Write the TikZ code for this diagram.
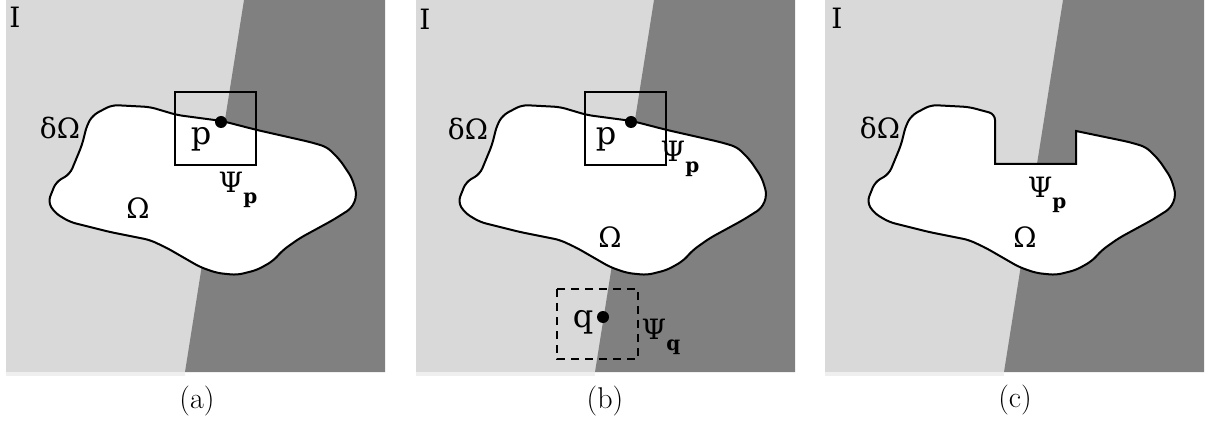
\documentclass[tikz,border=0pt]{standalone}
\usepackage{fontspec}
\newfontfamily\rotulofont{DejaVu Serif}

\definecolor{fundoclaro}{HTML}{D9D9D9}
\definecolor{fundoescuro}{HTML}{808080}
\definecolor{faixa}{HTML}{EFEFEF}

% indice pequeno e abaixado (Psi_p, Psi_q)
\newcommand{\indice}[1]{\raisebox{-0.8ex}{\fontsize{10}{11}\selectfont\bfseries #1}}

% fundo da imagem I (duas regioes)
\newcommand{\fundo}{%
  \fill[fundoclaro] (6,0) rectangle (385,372);
  \fill[fundoescuro] (244,0) -- (385,0) -- (385,372) -- (185,372) -- cycle;
  \fill[faixa] (6,372) rectangle (185,376);
}

% regiao Omega e sua borda
\newcommand{\contorno}{%
  \draw[regiao] (112,105) -- (150,107) -- (177,115) -- (222,121) -- (257,130)
    -- (310,142) -- (327,147) -- (340,160) -- (352,178) -- (357,195)
    -- (352,208) -- (333,220) -- (300,238) -- (283,250) -- (273,261)
    -- (257,270) -- (237,275) -- (217,273) -- (200,267) -- (167,248)
    -- (150,240) -- (110,232) -- (70,222) -- (55,213) -- (48,202)
    -- (56,182) -- (70,174) -- (82,145) -- (87,125)
    -- (93,115) -- cycle;
}

\begin{document}
\begin{tikzpicture}[
      x=0.5pt, y=-0.5pt,
      regiao/.style={fill=white, draw=black, line width=1pt, rounded corners=3pt},
      janela/.style={draw=black, line width=1pt},
      ponto/.style={circle, fill=black, inner sep=0pt, minimum size=6pt},
      rotulo/.style={font=\rotulofont\fontsize{14}{16}\selectfont, inner sep=0pt},
      letra/.style={font=\rotulofont\fontsize{16}{18}\selectfont, inner sep=0pt},
      legenda/.style={font=\fontsize{15}{17}\selectfont, inner sep=0pt}
    ]
    \useasboundingbox (0,0) rectangle (1213,427);

    % Primeiro quadro
    \begin{scope}
      \fundo
      \contorno
      \draw[janela] (175,92) rectangle (256,165);
      \node[ponto] (pa) at (221,122) {};
      \node[rotulo] (Ia) at (15,17) {I};
      \node[rotulo] (dOa) at (60,128) {δΩ};
      \node[rotulo] (Oa) at (138,208) {Ω};
      \node[letra] (pla) at (201,139) {p};
      \node[rotulo] (psia) at (238,190) {Ψ\indice{p}};
      \node[legenda] (capa) at (197,401) {(a)};
    \end{scope}

    % Segundo quadro
    \begin{scope}[shift={(410,0)}]
      \fundo
      \contorno
      \draw[janela] (175,92) rectangle (256,165);
      \node[ponto] (pb) at (221,122) {};
      \draw[janela, dash pattern=on 4pt off 3pt] (147,289) rectangle (228,359);
      \node[ponto] (qb) at (193,317) {};
      \node[rotulo] (Ib) at (15,19) {I};
      \node[rotulo] (dOb) at (58,129) {δΩ};
      \node[rotulo] (Ob) at (200,237) {Ω};
      \node[letra] (plb) at (196,139) {p};
      \node[rotulo] (psib) at (270,159) {Ψ\indice{p}};
      \node[letra] (qlb) at (173,322) {q};
      \node[rotulo] (psiqb) at (251,337) {Ψ\indice{q}};
      \node[legenda] (capb) at (195,401) {(b)};
    \end{scope}

    % Terceiro quadro: janela retirada da regiao
    \begin{scope}[shift={(819,0)}]
      \fundo
      \draw[regiao] (112,105) -- (150,107) -- (176,114)
        [sharp corners] -- (176,164) -- (257,164) -- (257,131)
        [rounded corners=3pt] -- (310,142)
        -- (327,147) -- (340,160) -- (352,178) -- (357,195)
        -- (352,208) -- (333,220) -- (300,238) -- (283,250) -- (273,261)
        -- (257,270) -- (237,275) -- (217,273) -- (200,267) -- (167,248)
        -- (150,240) -- (110,232) -- (70,222) -- (55,213) -- (48,202)
        -- (56,182) -- (70,174) -- (82,145) -- (87,125)
        -- (93,115) -- cycle;
      \node[rotulo] (Ic) at (18,18) {I};
      \node[rotulo] (dOc) at (61,128) {δΩ};
      \node[rotulo] (Oc) at (206,237) {Ω};
      \node[rotulo] (psic) at (228,195) {Ψ\indice{p}};
      \node[legenda] (capc) at (196,400) {(c)};
    \end{scope}
  \end{tikzpicture}
\end{document}
